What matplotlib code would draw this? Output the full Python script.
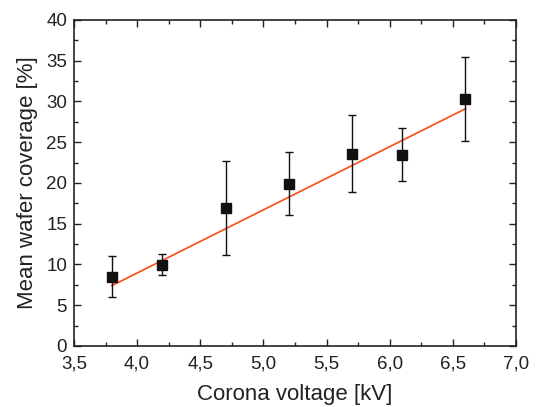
import numpy as np
import matplotlib.pyplot as plt
from matplotlib.ticker import MultipleLocator, FuncFormatter

plt.rcParams['font.family'] = ['Liberation Sans', 'DejaVu Sans']

voltage = [3.8, 4.2, 4.7, 5.2, 5.7, 6.1, 6.6]
coverage = [8.5, 9.9, 16.9, 19.9, 23.6, 23.4, 30.3]
err_low = [6.0, 8.7, 11.1, 16.1, 18.9, 20.2, 25.2]
err_high = [11.0, 11.3, 22.7, 23.8, 28.3, 26.8, 35.4]

# linear fit line as drawn in the original
fit_x = [3.8, 6.6]
fit_y = [7.4, 29.1]

cov = np.array(coverage)
yerr = [cov - np.array(err_low), np.array(err_high) - cov]

fig = plt.figure(figsize=(5.38, 4.07), dpi=100)
ax = fig.add_axes([0.1375, 0.15, 0.8215, 0.801])

ax.plot(fit_x, fit_y, color='#ff4a1c', lw=1.2, zorder=2)
ax.errorbar(voltage, coverage, yerr=yerr, fmt='s', color='#111111',
            markersize=6.5, capsize=3, elinewidth=1, capthick=1, zorder=3)

ax.set_xlim(3.5, 7.0)
ax.set_ylim(0, 40)
ax.xaxis.set_major_locator(MultipleLocator(0.5))
ax.xaxis.set_minor_locator(MultipleLocator(0.25))
ax.yaxis.set_major_locator(MultipleLocator(5))
ax.yaxis.set_minor_locator(MultipleLocator(2.5))
ax.xaxis.set_major_formatter(FuncFormatter(lambda v, p: f"{v:.1f}".replace('.', ',')))
ax.yaxis.set_major_formatter(FuncFormatter(lambda v, p: f"{v:.0f}"))

ax.tick_params(which='both', direction='in', top=True, right=True,
               labelsize=13.5, colors='#222222', width=1)
ax.tick_params(which='major', length=5)
ax.tick_params(which='minor', length=3)
ax.tick_params(axis='y', pad=5)
ax.tick_params(axis='x', pad=7)
for s in ax.spines.values():
    s.set_linewidth(1.2)
    s.set_color('#222222')

ax.set_xlabel("Corona voltage [kV]", fontsize=16, color='#222222', labelpad=8)
ax.set_ylabel("Mean wafer coverage [%]", fontsize=16, color='#222222', labelpad=6)

fig.savefig("out.png", dpi=100)
